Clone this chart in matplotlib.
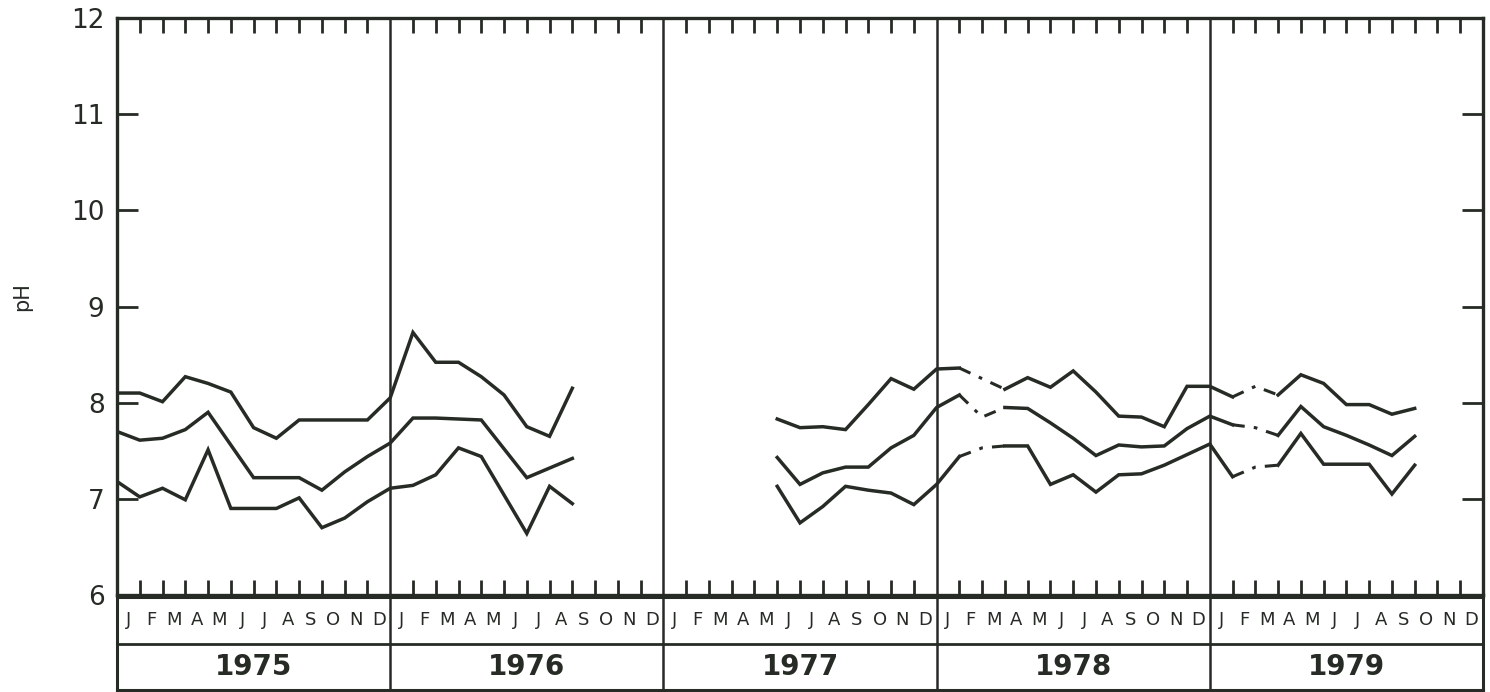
import matplotlib
matplotlib.use("Agg")
import matplotlib.pyplot as plt
import numpy as np

nan = np.nan

# monthly pH, index 0 = Jan 1975 ... 60 = Jan 1980 (nan = no sample)
upper = [8.10, 8.10, 8.01, 8.27, 8.20, 8.11, 7.74, 7.63, 7.82, 7.82, 7.82, 7.82,
         8.05, 8.73, 8.42, 8.42, 8.27, 8.08, 7.75, 7.65, 8.15, nan, nan, nan,
         nan, nan, nan, nan, nan, 7.83, 7.74, 7.75, 7.72, 7.98, 8.25, 8.14,
         8.35, 8.36, 8.25, 8.14, 8.26, 8.16, 8.33, 8.11, 7.86, 7.85, 7.75, 8.17,
         8.17, 8.06, 8.17, 8.08, 8.29, 8.20, 7.98, 7.98, 7.88, 7.94, nan, nan, nan]
mean = [7.70, 7.61, 7.63, 7.72, 7.90, 7.56, 7.22, 7.22, 7.22, 7.09, 7.28, 7.44,
        7.58, 7.84, 7.84, 7.83, 7.82, 7.52, 7.22, 7.32, 7.42, nan, nan, nan,
        nan, nan, nan, nan, nan, 7.43, 7.15, 7.27, 7.33, 7.33, 7.53, 7.66,
        7.95, 8.08, 7.85, 7.95, 7.94, 7.79, 7.63, 7.45, 7.56, 7.54, 7.55, 7.73,
        7.86, 7.77, 7.74, 7.66, 7.96, 7.75, 7.66, 7.56, 7.45, 7.65, nan, nan, nan]
lower = [7.18, 7.02, 7.11, 6.99, 7.51, 6.90, 6.90, 6.90, 7.01, 6.70, 6.80, 6.97,
         7.11, 7.14, 7.25, 7.53, 7.44, 7.04, 6.64, 7.13, 6.95, nan, nan, nan,
         nan, nan, nan, nan, nan, 7.13, 6.75, 6.92, 7.13, 7.09, 7.06, 6.94,
         7.15, 7.44, 7.53, 7.55, 7.55, 7.15, 7.25, 7.07, 7.25, 7.26, 7.35, 7.46,
         7.57, 7.23, 7.33, 7.35, 7.68, 7.36, 7.36, 7.36, 7.05, 7.35, nan, nan, nan]

# months with estimated values (drawn dash-dot)
estimated = [38, 50]

years = ["1975", "1976", "1977", "1978", "1979"]
month_letters = list("JFMAMJJASOND")

ink = "#272b25"
W, H = 1490, 692
fig = plt.figure(figsize=(W / 100, H / 100), dpi=100)
fig.patch.set_facecolor("white")

x0, x1, ytop, ybot = 117, 1483, 18, 595
ax = fig.add_axes([x0 / W, 1 - ybot / H, (x1 - x0) / W, (ybot - ytop) / H])

months = np.arange(len(upper))
for series in (upper, mean, lower):
    vals = np.array(series, dtype=float)
    solid = vals.copy()
    solid[estimated] = nan
    ax.plot(months, solid, color=ink, lw=2.5, solid_joinstyle="miter")
    for m in estimated:
        seg = np.full_like(vals, nan)
        seg[m - 1:m + 2] = vals[m - 1:m + 2]
        ax.plot(months, seg, color=ink, lw=2.2, dashes=(4, 3, 1.2, 3))

for b in (12, 24, 36, 48):
    ax.axvline(b, color=ink, lw=1.8)

ax.set_xlim(0, 60)
ax.set_ylim(6, 12)
ax.set_xticks([])
ax.set_xticks([m for m in range(1, 60) if m % 12], minor=True)
ax.tick_params(axis="x", which="minor", direction="in", top=True, bottom=True,
               length=11, width=2, color=ink)
ax.set_yticks(range(6, 13))
ax.tick_params(axis="y", direction="in", left=True, right=True, length=15,
               width=2, color=ink, labelsize=19, labelcolor=ink, pad=9)
for s in ax.spines.values():
    s.set_linewidth(2.4)
    s.set_color(ink)

fig.text(22 / W, 1 - 297 / H, "pH", rotation=90, ha="center", va="center",
         fontsize=15, color=ink)

# month / year label band under the plot
band = fig.add_axes([x0 / W, 2 / H, (x1 - x0) / W, (ybot - 2) / H - 500 / H])
band.set_xlim(0, 60)
band.set_ylim(0, 2)
band.set_xticks([])
band.set_yticks([])
for s in band.spines.values():
    s.set_linewidth(2.2)
    s.set_color(ink)
band.axhline(1, color=ink, lw=2)
for b in (12, 24, 36, 48):
    band.axvline(b, color=ink, lw=1.8)
for yi, yr in enumerate(years):
    for mi, letter in enumerate(month_letters):
        band.text(yi * 12 + mi + 0.5, 1.5, letter, ha="center", va="center",
                  fontsize=13, color=ink)
    band.text(yi * 12 + 6, 0.5, yr, ha="center", va="center", fontsize=20,
              fontweight="semibold", color=ink)

fig.savefig("out.png", dpi=100, facecolor="white")
